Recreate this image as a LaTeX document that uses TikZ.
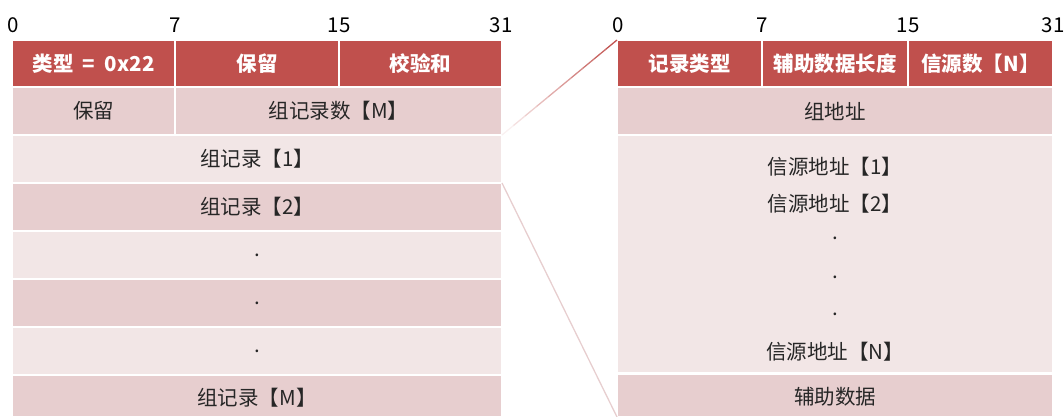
\documentclass[tikz,border=0pt]{standalone}
\usepackage{fontspec}
\setmainfont{Noto Sans CJK SC}
\usetikzlibrary{positioning,calc}

\definecolor{hdrred}{HTML}{C0504D}
\definecolor{banddark}{HTML}{E7CECF}
\definecolor{bandlight}{HTML}{F2E6E6}
\definecolor{txt}{HTML}{262626}

\begin{document}
\begin{tikzpicture}[x=1pt,y=-1pt,
  every node/.style={font=\fontsize{20.5}{24}\selectfont,inner sep=0pt,outer sep=0pt},
  cell/.style={rectangle,draw=white,line width=1.5pt,minimum height=48pt,text=txt},
  hdr/.style={cell,fill=hdrred,text=white,minimum height=47pt,font=\fontsize{20.5}{24}\selectfont\bfseries},
  dark/.style={cell,fill=banddark},
  light/.style={cell,fill=bandlight},
  bit/.style={font=\fontsize{20.5}{24}\selectfont,text=black}]
\useasboundingbox (0,0) rectangle (1064,416);

% left: report header and group records
\node[bit] (lb0) at (13,25) {0};
\node[bit] (lb7) at (175,25) {7};
\node[bit] (lb15) at (339,25) {15};
\node[bit] (lb31) at (501,25) {31};
\node[hdr,minimum width=163pt] (lhA) at (93.5,63.5) {类型\ \ =\ \ 0x22};
\node[hdr,minimum width=164pt] (lhB) at (257,63.5) {保留};
\node[hdr,minimum width=163pt] (lhC) at (420.5,63.5) {校验和};
\node[dark,minimum width=163pt] (lr1a) at (93.5,111) {保留};
\node[dark,minimum width=327pt] (lr1b) at (338.5,111) {组记录数【M】};
\node[light,minimum width=490pt] (lr2) at (257,159) {组记录【1】};
\node[dark,minimum width=490pt] (lr3) at (257,207) {组记录【2】};
\node[light,minimum width=490pt] (lr4) at (257,255) {.};
\node[dark,minimum width=490pt] (lr5) at (257,303) {.};
\node[light,minimum width=490pt] (lr6) at (257,351) {.};
\node[dark,minimum width=490pt,minimum height=42pt] (lr7) at (257,396) {};
\node[text=txt] (lr7t) at (257,398) {组记录【M】};

% right: one group record
\node[bit] (rb0) at (618,25) {0};
\node[bit] (rb7) at (762,25) {7};
\node[bit] (rb15) at (908,25) {15};
\node[bit] (rb31) at (1053,25) {31};
\node[hdr,minimum width=145pt] (rhA) at (689.5,63.5) {记录类型};
\node[hdr,minimum width=146pt] (rhB) at (835,63.5) {辅助数据长度};
\node[hdr,minimum width=145pt] (rhC) at (980.5,63.5) {信源数【N】};
\node[dark,minimum width=436pt] (rr1) at (835,111) {组地址};
\node[light,minimum width=436pt,minimum height=238pt] (rr2) at (835,254) {};
\node[text=txt] (src1) at (835,167) {信源地址【1】};
\node[text=txt] (src2) at (835,204) {信源地址【2】};
\node[text=txt] (dot1) at (835,238) {.};
\node[text=txt] (dot2) at (835,277) {.};
\node[text=txt] (dot3) at (835,314) {.};
\node[text=txt] (srcN) at (835,352) {信源地址【N】};
\node[dark,minimum width=436pt,minimum height=43pt] (rr3) at (835,395.5) {};
\node[text=txt] (rr3t) at (835,397) {辅助数据};

% zoom lines
\foreach \i in {0,...,9} {
  \pgfmathsetmacro\a{\i/10}
  \pgfmathsetmacro\b{(\i+1)/10}
  \pgfmathtruncatemacro\p{8+10*\i}
  \draw[hdrred!\p!white,line width=1.3pt]
    ($(lr1b.south east)!\a!(rhA.north west)$) -- ($(lr1b.south east)!\b!(rhA.north west)$);
}
\draw[banddark,line width=1.3pt] (lr2.south east) -- (rr3.south west);
\end{tikzpicture}
\end{document}
